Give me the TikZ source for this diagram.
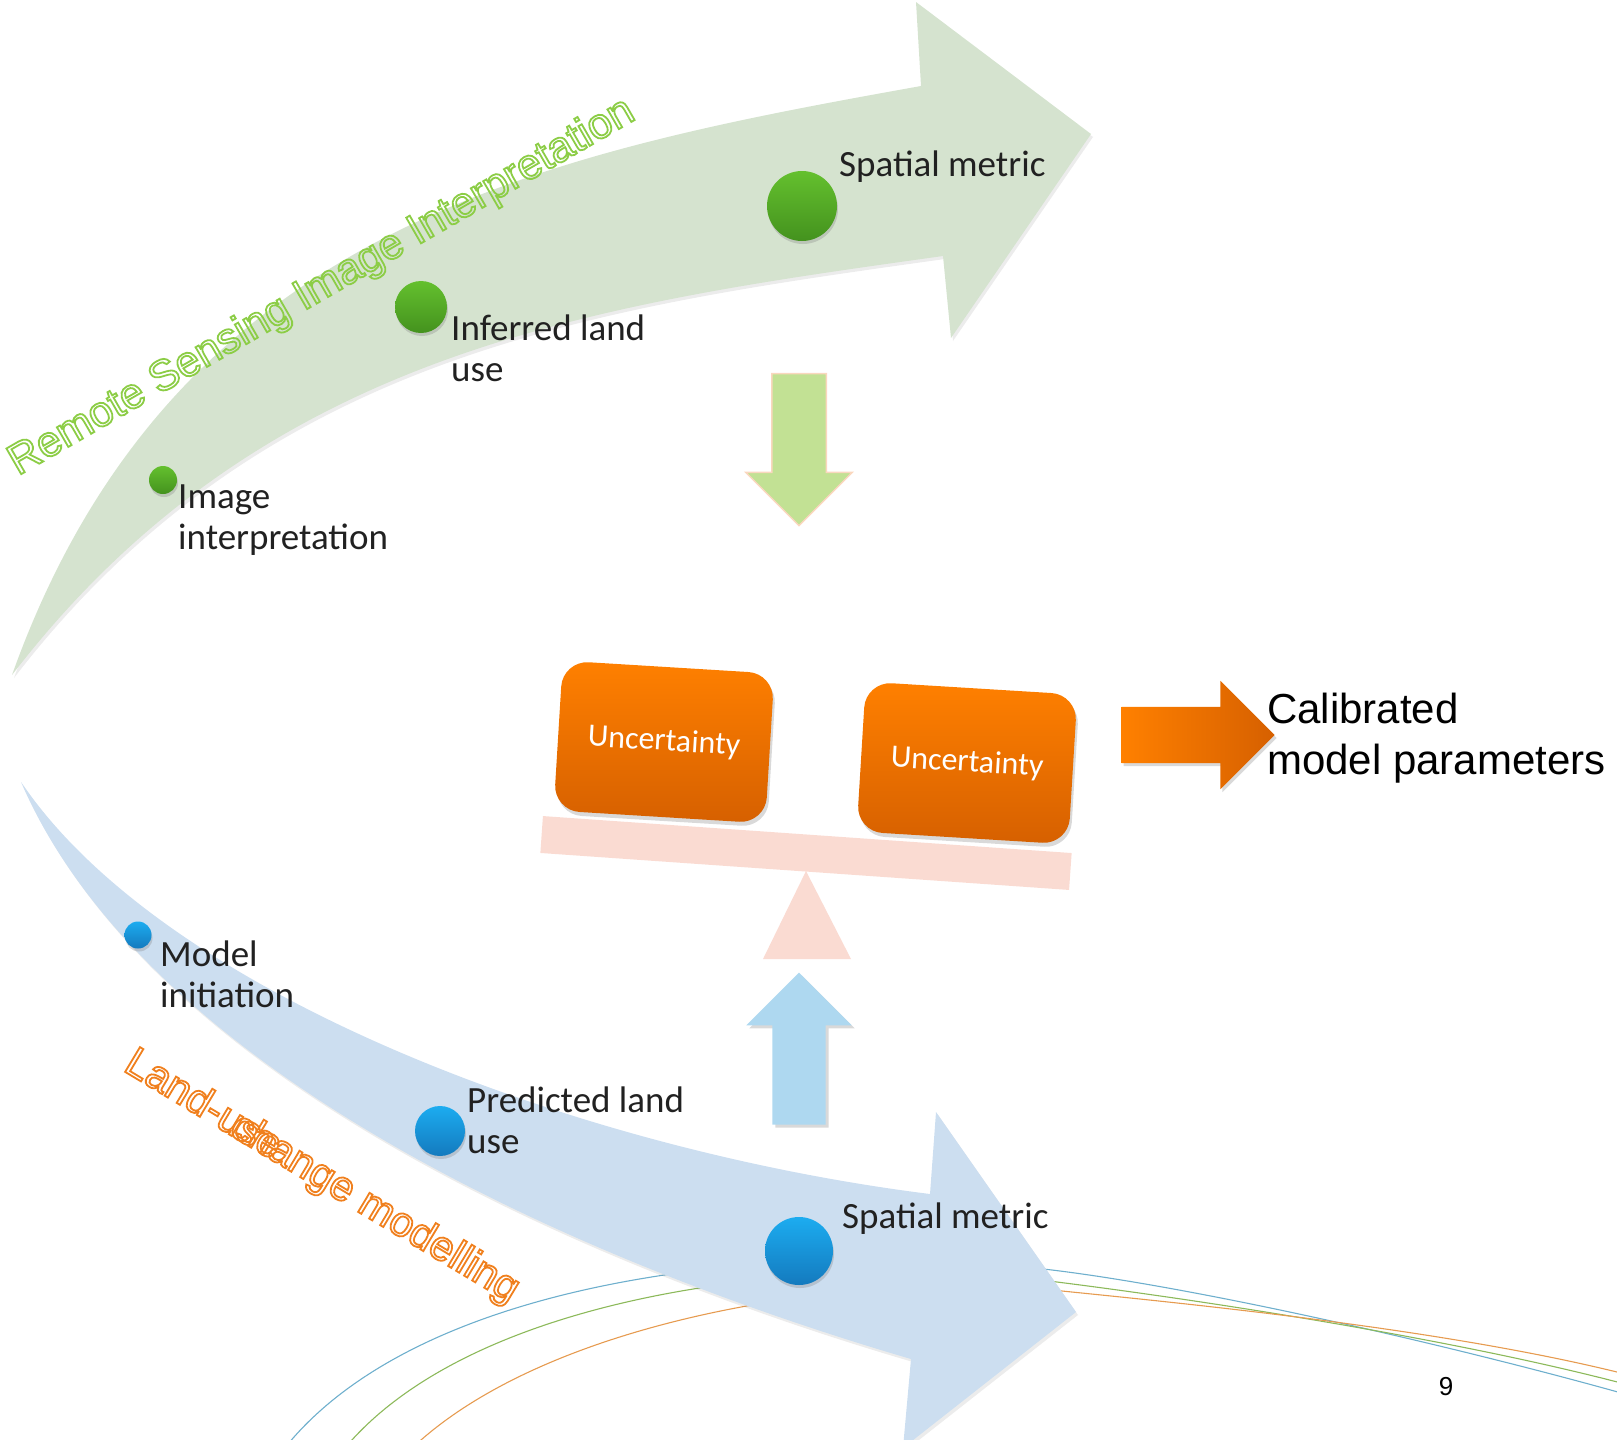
\documentclass[tikz,border=0pt]{standalone}
\usepackage{fontspec}
\usetikzlibrary{positioning,shapes.arrows,shadows,calc}
\setmainfont{Carlito}
\newfontfamily\arialfont{Liberation Sans}
\newcommand{\hollow}[1]{\special{pdf:literal direct 1 Tr 1.8 w}#1\special{pdf:literal direct 0 Tr}}
\definecolor{bandgreen}{RGB}{213,227,207}
\definecolor{bandblue}{RGB}{204,222,240}
\definecolor{dotgreenT}{RGB}{100,192,46}
\definecolor{dotgreenB}{RGB}{68,146,30}
\definecolor{dotblueT}{RGB}{28,172,240}
\definecolor{dotblueB}{RGB}{20,122,190}
\definecolor{rsgreen}{RGB}{140,205,70}
\definecolor{lcorange}{RGB}{240,128,30}
\definecolor{boxorangeT}{RGB}{255,128,0}
\definecolor{boxorangeB}{RGB}{214,96,0}
\definecolor{downgreen}{RGB}{194,225,148}
\definecolor{peach}{RGB}{250,215,190}
\definecolor{upblue}{RGB}{174,216,240}
\definecolor{plankpink}{RGB}{250,219,210}
\definecolor{decoblue}{RGB}{110,175,205}
\definecolor{decogreen}{RGB}{140,185,90}
\definecolor{decoorange}{RGB}{230,155,80}

\begin{document}
\begin{tikzpicture}[
x=1pt,y=-1pt,
dot/.style={
circle,
inner sep=0pt,
drop shadow={opacity=0.3,shadow xshift=1pt,shadow yshift=-3pt}
},
gdot/.style={dot,top color=dotgreenT,bottom color=dotgreenB},
bdot/.style={dot,top color=dotblueT,bottom color=dotblueB},
lbl/.style={
anchor=west,
inner sep=0pt,
align=left,
text=black!87,
font=\fontsize{37}{41}\selectfont
},
ttl/.style={
anchor=base west,
inner sep=0pt,
font=\arialfont\fontsize{43}{50}\selectfont
},
ubox/.style={
rounded corners=26pt,
minimum width=212pt,
minimum height=150pt,
top color=boxorangeT,
bottom color=boxorangeB,
text=white,
rotate=-3.5,
font=\fontsize{32}{38}\selectfont,
drop shadow={opacity=0.3,shadow xshift=2pt,shadow yshift=-4pt}
},
fatarrow/.style={
single arrow,
inner xsep=0pt,
inner ysep=26.5pt,
minimum height=152pt,
single arrow head extend=26pt,
single arrow head indent=0pt
},
deco/.style={line width=1.1pt}
]
\useasboundingbox (0,0) rectangle (1617,1440);

%---------------- Background lines ----------------%

\draw[deco,decoblue] (280,1454) .. controls (420,1270) and (800,1240) .. (1052,1270)
.. controls (1200,1288) and (1450,1345) .. (1625,1394);
\draw[deco,decogreen] (340,1454) .. controls (470,1290) and (820,1252) .. (1057,1282)
.. controls (1200,1300) and (1450,1338) .. (1625,1384);
\draw[deco,decoorange] (406,1454) .. controls (540,1320) and (850,1270) .. (1062,1291)
.. controls (1200,1305) and (1450,1330) .. (1625,1374);

%---------------- Curved arrows ----------------%

\fill[bandgreen,drop shadow={opacity=0.15,shadow xshift=2pt,shadow yshift=-3pt}]
(12,675) .. controls (172,227) and (541,154) .. (921,86)
-- (916,2) -- (1091,134) -- (951,338) -- (943,256)
.. controls (592,305) and (262,350) .. (12,675) -- cycle;

\fill[bandblue,drop shadow={opacity=0.15,shadow xshift=2pt,shadow yshift=-3pt}]
(21,782) .. controls (165,995) and (579,1150) .. (930,1194)
-- (936,1112) -- (1076,1312) -- (903,1448) -- (911,1359)
.. controls (600,1268) and (150,1080) .. (21,782) -- cycle;

%---------------- Dots and labels ----------------%

\node[gdot,minimum size=28pt] (dimg) at (163,480) {};
\node[gdot,minimum size=52pt] (dinf) at (421,307) {};
\node[gdot,minimum size=70pt] (dsptop) at (802,206) {};

\node[bdot,minimum size=27pt] (dmod) at (138,935) {};
\node[bdot,minimum size=50pt] (dpre) at (440,1131) {};
\node[bdot,minimum size=68pt] (dspbot) at (799,1251) {};

\node[lbl] (limg) at (178,520) {Image\\interpretation};
\node[lbl] (linf) at (451,348) {Inferred land\\use};
\node[lbl] (lsptop) at (839,167) {Spatial metric};

\node[lbl] (lmod) at (160,974) {Model\\initiation};
\node[lbl] (lpre) at (467,1120) {Predicted land\\use};
\node[lbl] (lspbot) at (842,1219) {Spatial metric};

%---------------- Titles ----------------%

\node[ttl,rotate=30,text=rsgreen] (rstitle) at (18,476)
{\hollow{Remote Sensing Image Interpretation}};

\node[ttl,rotate=-31,text=lcorange,font=\arialfont\fontsize{42}{50}\selectfont] (landuse) at (122,1070)
{\hollow{Land-use}};
\node[ttl,rotate=-31,text=lcorange,font=\arialfont\fontsize{42}{50}\selectfont] (change) at ($(landuse.base west)+(-31:123pt)$)
{\hollow{change modelling}};

%---------------- Balance ----------------%

\node[fatarrow,rotate=-90,fill=downgreen,draw=peach,line width=1.5pt] (down) at (799,436) {};

\node[fatarrow,rotate=90,fill=upblue,
drop shadow={opacity=0.3,shadow xshift=3pt,shadow yshift=-3pt}] (up) at (799,1062) {};

\fill[plankpink] (806,871) -- (851,959) -- (763,959) -- cycle;

\node[fill=plankpink,inner sep=0pt,minimum width=530pt,minimum height=37pt,rotate=-4] (plank) at (806,853) {};

\node[ubox] (uleft) at (664,742) {Uncertainty};
\node[ubox] (uright) at (967,763) {Uncertainty};

%---------------- Result ----------------%

\node[fatarrow,inner ysep=28pt,minimum height=153pt,left color=boxorangeT,right color=boxorangeB,
drop shadow={opacity=0.3,shadow xshift=2pt,shadow yshift=-3pt}] (out) at (1184,735) {};

\node[anchor=west,align=left,inner sep=0pt,font=\arialfont\fontsize{42}{51}\selectfont] (calib) at (1267,738)
{Calibrated\\model parameters};

\node[font=\arialfont\fontsize{26}{30}\selectfont] (pagenum) at (1446,1387) {9};

\end{tikzpicture}
\end{document}
